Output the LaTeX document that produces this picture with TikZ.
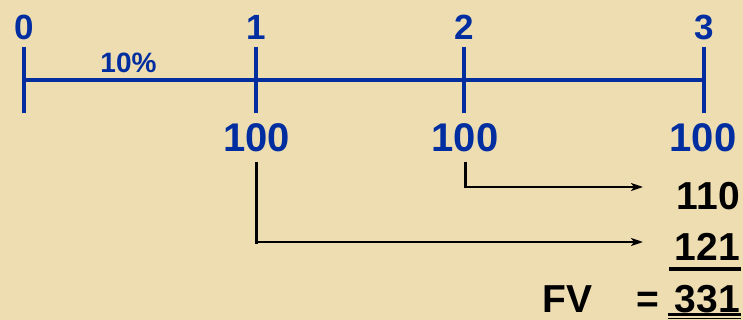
\documentclass[tikz,border=0pt]{standalone}
\usepackage{fontspec}
\setmainfont{Liberation Sans}
\usetikzlibrary{arrows.meta}
\definecolor{bg}{RGB}{237,221,177}
\definecolor{tlblue}{RGB}{0,45,160}
\begin{document}
\begin{tikzpicture}[x=1pt,y=-1pt,
  tl/.style={draw=tlblue,line width=3.3pt},
  toplab/.style={text=tlblue,font=\fontsize{35}{35}\selectfont\bfseries,inner sep=0pt,anchor=base},
  ratelab/.style={text=tlblue,font=\fontsize{28}{28}\selectfont\bfseries,inner sep=0pt,anchor=base},
  cflab/.style={text=tlblue,font=\fontsize{40}{40}\selectfont\bfseries,inner sep=0pt,anchor=base},
  reslab/.style={text=black,font=\fontsize{39}{39}\selectfont\bfseries,inner sep=0pt},
  vconn/.style={draw=black,line width=3pt},
  hconn/.style={draw=black,line width=2pt,-{Stealth[length=12pt,width=8pt,inset=3pt]}},
  uline/.style={draw=black,line width=4pt}]
\fill[bg] (0,0) rectangle (743,320);
\useasboundingbox (0,0) rectangle (743,320);
% timeline
\coordinate (t0) at (24,80);
\coordinate (t1) at (256,80);
\coordinate (t2) at (464,80);
\coordinate (t3) at (704,80);
\draw[tl] (t0) -- (t3);
\foreach \t in {t0,t1,t2,t3}{
  \draw[tl] ([yshift=-33pt]\t) -- ([yshift=33pt]\t);
}
% labels
\node[toplab] (l0) at (24.5,40) {0};
\node[toplab] (l1) at (256,40) {1};
\node[toplab] (l2) at (464.5,40) {2};
\node[toplab] (l3) at (704,40) {3};
\node[ratelab] (rate) at (128.5,73) {10\%};
\node[cflab] (c1) at (256.5,152) {100};
\node[cflab] (c2) at (465,152) {100};
\node[cflab] (c3) at (703,152) {100};
% results
\node[reslab,anchor=base east] (r1) at (740,210) {110};
\node[reslab,anchor=base east] (r2) at (740,260) {121};
\node[reslab,anchor=base east] (fv) at (740,312) {331};
\node[reslab,anchor=base] (eq) at (647.5,312) {=};
\node[reslab,anchor=base] (fvl) at (567.5,312) {FV};
% connectors
\coordinate (a1) at (643,187);
\coordinate (a2) at (643,242);
\draw[vconn] (c2.south |- 0,162) -- (c2.south |- 0,188.5);
\draw[hconn] (c2.south |- a1) ++(1.5,0) -- (a1);
\draw[vconn] (c1.south |- 0,162) -- (c1.south |- 0,243.5);
\draw[hconn] (c1.south |- a2) ++(1.5,0) -- (a2);
% underlines
\draw[uline] (669,269) -- (741,269);
\draw[draw=black,line width=2.5pt] (668,314.5) -- (741,314.5);
\draw[draw=black,line width=1.5pt] (668,318.5) -- (741,318.5);
\end{tikzpicture}
\end{document}
